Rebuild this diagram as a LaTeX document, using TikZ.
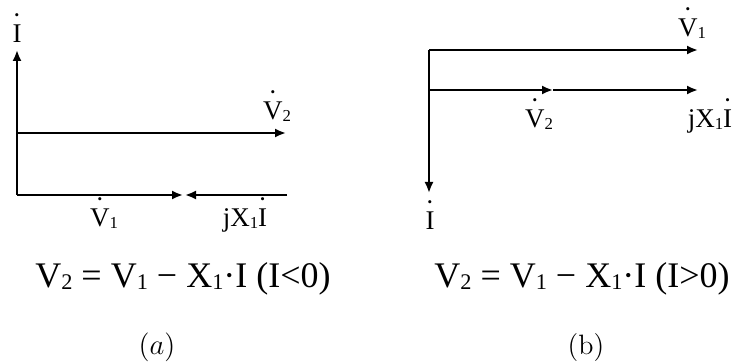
\documentclass[tikz,border=0pt]{standalone}
\usepackage{fontspec}
\newfontfamily\labelfont{Liberation Serif}
\usetikzlibrary{arrows.meta, positioning}

% phasor dot over a letter, small index
\newcommand{\dotover}[1]{\leavevmode\vbox{\offinterlineskip\halign{\hfil##\hfil\cr{\fontsize{6.5}{6.5}\selectfont\textbullet}\cr\noalign{\kern3pt}#1\cr}}}
\newcommand{\idx}[1]{\raisebox{-0.1ex}{\scalebox{0.62}{#1}}}

\tikzset{
  phasor/.style={line width=1.1pt, -{Latex[length=5.5pt,width=4.6pt]}},
  lbl/.style={anchor=base, inner sep=0pt, font=\labelfont\fontsize{13.5}{13.5}\selectfont},
  eqn/.style={anchor=base, inner sep=0pt, font=\labelfont\fontsize{18}{18}\selectfont},
  tag/.style={anchor=base, inner sep=0pt, font=\fontsize{14}{14}\selectfont}
}

\begin{document}
\begin{tikzpicture}[x=0.5pt, y=-0.5pt]
  \useasboundingbox (0,0) rectangle (734,363);

  % (a)  I < 0
  \coordinate (Oa) at (17,195);
  \coordinate (Ia) at (17,50);
  \coordinate (Ma) at (17,133);
  \coordinate (V2a) at (286,133);
  \coordinate (V1a) at (183,195);
  \coordinate (Ea) at (287,195);
  \coordinate (Ja) at (185,195);
  \draw[phasor] (Oa) -- (Ia);
  \draw[phasor] (Ma) -- (V2a);
  \draw[phasor] (Oa) -- (V1a);
  \draw[phasor] (Ea) -- (Ja);
  \node[lbl] (la-I)  at (17,43)   {\dotover{I}};
  \node[lbl] (la-V2) at (277,120) {\dotover{V}\idx{2}};
  \node[lbl] (la-V1) at (104,227) {\dotover{V}\idx{1}};
  \node[lbl] (la-jX) at (245,227) {jX\idx{1}\dotover{I}};

  % (b)  I > 0
  \coordinate (Ob) at (429,50);
  \coordinate (V1b) at (698,50);
  \coordinate (Mb) at (429,90);
  \coordinate (V2b) at (553,90);
  \coordinate (Jb) at (698,90);
  \coordinate (Ib) at (429,193);
  \draw[phasor] (Ob) -- (V1b);
  \draw[phasor] (Mb) -- (V2b);
  \draw[phasor] (V2b) -- (Jb);
  \draw[phasor] (Ob) -- (Ib);
  \node[lbl] (lb-V1) at (692,37)  {\dotover{V}\idx{1}};
  \node[lbl] (lb-V2) at (539,128) {\dotover{V}\idx{2}};
  \node[lbl] (lb-jX) at (710,128) {jX\idx{1}\dotover{I}};
  \node[lbl] (lb-I)  at (430,230) {\dotover{I}};

  % relations and tags
  \node[eqn] (eq-a) at (183,288) {V\idx{2} = V\idx{1} − X\idx{1}·I (I<0)};
  \node[eqn] (eq-b) at (582,288) {V\idx{2} = V\idx{1} − X\idx{1}·I (I>0)};
  \node[tag] (tag-a) at (157,355) {$(a)$};
  \node[tag] (tag-b) at (586,355) {(b)};
\end{tikzpicture}
\end{document}
